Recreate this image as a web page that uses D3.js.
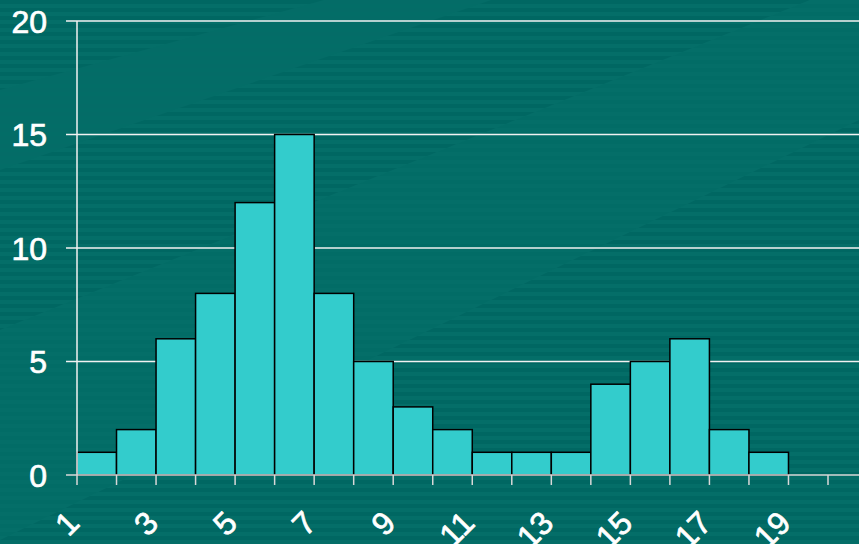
<!DOCTYPE html>
<html><head><meta charset="utf-8">
<script src="https://cdn.jsdelivr.net/npm/d3@7"></script>
<style>html,body{margin:0;padding:0;background:#006660;}svg{display:block;}</style>
</head><body>
<script>
const binStarts = [1,2,3,4,5,6,7,8,9,10,11,12,13,14,15,16,17,18];
const counts = [1,2,6,8,12,15,8,5,3,2,1,1,1,4,5,6,2,1];
const xTickValues = [1,2,3,4,5,6,7,8,9,10,11,12,13,14,15,16,17,18,19,20];
const xTickLabels = ["1","3","5","7","9","11","13","15","17","19"];
const yTickValues = [0,5,10,15,20];

const W = 859, H = 544;
const svg = d3.select("body").append("svg").attr("width", W).attr("height", H);

// background
const defs = svg.append("defs");
const pat = defs.append("pattern").attr("id","stripes").attr("patternUnits","userSpaceOnUse")
  .attr("width", 8).attr("height", 8);
pat.append("rect").attr("width",8).attr("height",8).attr("fill","#006762");
pat.append("rect").attr("y",4).attr("width",8).attr("height",4).attr("fill","#046e68");
svg.append("rect").attr("width",W).attr("height",H).attr("fill","url(#stripes)");
const pat2 = defs.append("pattern").attr("id","stripes2").attr("patternUnits","userSpaceOnUse")
  .attr("width", 8).attr("height", 8);
pat2.append("rect").attr("width",8).attr("height",8).attr("fill","#0a7670");
pat2.append("rect").attr("y",4).attr("width",8).attr("height",4).attr("fill","#006a64");
svg.append("path").attr("d","M0,330 L859,-20 L859,120 L0,540 Z").attr("fill","url(#stripes2)").attr("opacity",0.45);
svg.append("path").attr("d","M0,90 L360,-10 L520,-10 L0,170 Z").attr("fill","url(#stripes2)").attr("opacity",0.35);

const x = d3.scaleLinear().domain([1,20]).range([77,828]);
const y = d3.scaleLinear().domain([0,20]).range([475,21]);

// gridlines
svg.append("g").selectAll("line").data(yTickValues.filter(d=>d>0)).join("line")
  .attr("x1",66).attr("x2",W).attr("y1",d=>y(d)).attr("y2",d=>y(d))
  .attr("stroke","#f2f2f2").attr("stroke-width",1.5);

// bars
svg.append("g").selectAll("rect").data(binStarts).join("rect")
  .attr("x",(d)=>x(d)).attr("width",(d)=>x(d+1)-x(d))
  .attr("y",(d,i)=>y(counts[i])).attr("height",(d,i)=>y(0)-y(counts[i]))
  .attr("fill","#33cccc").attr("stroke","#000").attr("stroke-width",1.5);

// y axis line
svg.append("line").attr("x1",77).attr("x2",77).attr("y1",y(20)).attr("y2",y(0))
  .attr("stroke","#f2f2f2").attr("stroke-width",1.5);
// y tick for 0 and x axis
svg.append("line").attr("x1",66).attr("x2",W).attr("y1",y(0)).attr("y2",y(0))
  .attr("stroke","#d8d8d8").attr("stroke-width",1.5);
// x ticks
svg.append("g").selectAll("line").data(xTickValues).join("line")
  .attr("x1",d=>x(d)).attr("x2",d=>x(d)).attr("y1",y(0)).attr("y2",y(0)+10)
  .attr("stroke","#d8d8d8").attr("stroke-width",1.5);

// y labels
svg.append("g").selectAll("text").data(yTickValues).join("text")
  .attr("x",47).attr("y",d=>y(d)).attr("dy","0.36em").attr("text-anchor","end")
  .attr("fill","#fff").attr("stroke","#fff").attr("stroke-width",0.7)
  .attr("font-family","Liberation Sans, Arial, sans-serif").attr("font-size",32)
  .text(d=>d);

// x labels
svg.append("g").selectAll("text").data(xTickLabels).join("text")
  .attr("transform",d=>`translate(${x(+d)+4},${y(0)+50}) rotate(-45)`)
  .attr("text-anchor","end")
  .attr("fill","#fff").attr("stroke","#fff").attr("stroke-width",0.7)
  .attr("font-family","Liberation Sans, Arial, sans-serif").attr("font-size",32)
  .text(d=>d);
</script>
</body></html>
